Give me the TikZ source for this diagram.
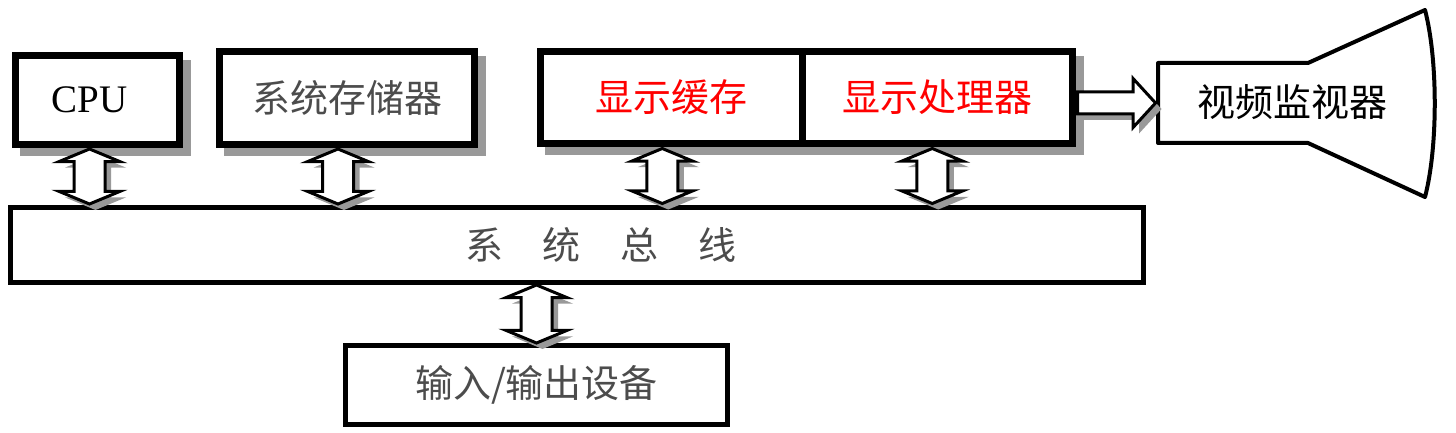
\documentclass[tikz,border=0pt]{standalone}
\usepackage{fontspec}
\setmainfont{Liberation Serif}
\newfontfamily\cjk{Noto Sans CJK SC}
\newfontfamily\latinserif{Liberation Serif}
\usetikzlibrary{calc,positioning,shapes.arrows,shadows}
\definecolor{txtgray}{gray}{0.3}
\tikzset{
		unit/.style={rectangle, draw=black, line width=3.5pt, fill=white,
			inner sep=0pt, font=\cjk\fontsize{19}{22}\selectfont,
			drop shadow={shadow xshift=4pt, shadow yshift=-4pt,
				fill=gray!80, draw=gray!80, opacity=1}},
		plain/.style={rectangle, draw=black, line width=2.5pt, fill=white,
			inner sep=0pt, text=txtgray, font=\cjk\fontsize{19}{22}\selectfont},
		dbl/.style={double arrow, draw=black, line width=1.5pt, fill=white,
			rotate=90, minimum height=27.5pt, minimum width=29pt,
			inner xsep=0pt, inner ysep=7pt, double arrow head extend=7.5pt,
			double arrow tip angle=135,
			drop shadow={shadow xshift=3pt, shadow yshift=-3pt,
				fill=gray!80, opacity=1}},
		fwd/.style={single arrow, draw=black, line width=1.5pt, fill=white,
			minimum height=39pt, minimum width=23pt, inner xsep=0pt,
			inner ysep=4.75pt, single arrow head extend=6.75pt,
			single arrow tip angle=95,
			drop shadow={shadow xshift=3pt, shadow yshift=-3pt,
				fill=gray!80, opacity=1}},
		}

\begin{document}
\begin{tikzpicture}
				[x=0.5pt, y=-0.5pt, node distance=0pt]
				\useasboundingbox (0,0) rectangle (1456,433);

				\node[unit, minimum width=82pt, minimum height=44.5pt,
					font=\latinserif\fontsize{19.5}{22}\selectfont] (cpu) at (97.5,100) {CPU\hspace*{8pt}};
				\node[unit, minimum width=127.5pt, minimum height=46.5pt,
					text=txtgray] (mem) at (347,98) {系统存储器};
				\node[unit, minimum width=130.75pt, minimum height=46pt,
					text=red] (buf) at (671.25,97.5) {显示缓存};
				\node[unit, minimum width=135.25pt, minimum height=46pt,
					text=red, right=-3.5pt of buf] (gpu) {显示处理器};

				\node[plain, minimum width=566.5pt, minimum height=37.5pt]
					(bus) at (577,245) {\hspace*{24pt}系\hspace{20pt}统\hspace{20pt}总\hspace{20pt}线};
				\node[plain, minimum width=191pt, minimum height=39.5pt]
					(io) at (536.5,385) {输入/输出设备};

				% monitor
				\node[font=\cjk\fontsize{19}{22}\selectfont] (mon) at (1292,102) {视频监视器};
				\draw[line width=2pt, line join=round]
					(1158,63) -- (1308,63) -- (1425,10)
					.. controls (1438,60) and (1438,147) .. (1425,197)
					-- (1308,143) -- (1158,143) -- cycle;

				\node[fwd, anchor=tail, yshift=-2.75pt] (gpu2mon) at (gpu.east) {};

				% bus links
				\node[dbl] (cpu2bus) at ($(cpu.south)!.5!(cpu.south |- bus.north)+(-8,0)$) {};
				\node[dbl] (mem2bus) at ($(mem.south)!.5!(mem.south |- bus.north)+(-9,0)$) {};
				\node[dbl] (buf2bus) at ($(buf.south)!.5!(buf.south |- bus.north)+(-9,0)$) {};
				\node[dbl] (gpu2bus) at ($(gpu.south)!.5!(gpu.south |- bus.north)+(-5,0)$) {};
				\node[dbl, minimum height=29pt] (bus2io) at ($(bus.south -| io.north)!.5!(io.north)$) {};

			\end{tikzpicture}
\end{document}
